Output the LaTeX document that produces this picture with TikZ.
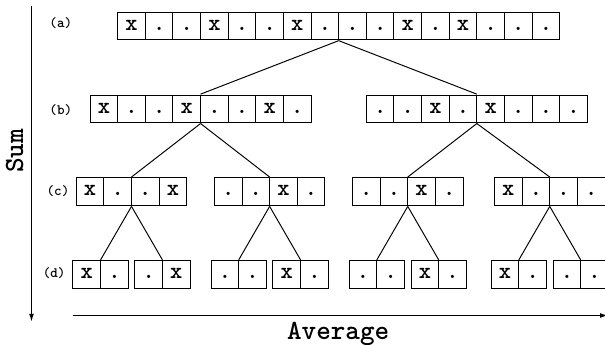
\documentclass[tikz,border=0pt]{standalone}
\usepackage{fontspec}
\setmonofont{lmmonolt10-bold.otf}
\usetikzlibrary{matrix,arrows.meta}

\begin{document}
\begin{tikzpicture}[
    cell/.style={
        rectangle,
        draw=black,
        line width=0.5pt,
        minimum size=0.5cm,
        inner sep=0pt,
        text height=1ex,
        text depth=0pt,
        font=\ttfamily\fontsize{12}{12}\selectfont
    },
    row/.style={
        matrix of nodes,
        nodes={cell},
        column sep=-0.5pt,
        inner sep=0pt
    },
    level/.style={
        font=\ttfamily\fontsize{7.4}{8}\selectfont
    },
    axis/.style={
        line width=0.5pt,
        -{Latex[length=4pt,width=2.5pt]}
    },
    axislabel/.style={
        font=\ttfamily\fontsize{14.3}{15}\selectfont
    },
    link/.style={line width=0.5pt}
]

\useasboundingbox (0,0) rectangle (10.95,6.24);

% Axes
\coordinate (top) at (0.57,6.14);
\coordinate (bottom) at (0.57,0.42);
\coordinate (left) at (1.32,0.53);
\coordinate (right) at (11.0,0.53);
\draw[axis] (top) -- (bottom);
\draw[axis] (left) -- (right);
\node[axislabel, rotate=90, anchor=base] (sum) at (0.42,3.51) {Sum};
\node[axislabel, anchor=base] (average) at (6.12,0.10) {Average};

% Level labels
\node[level] (la) at (1.10,5.83) {(a)};
\node[level] (lb) at (1.10,4.25) {(b)};
\node[level] (lc) at (1.05,2.78) {(c)};
\node[level] (ld) at (0.98,1.30) {(d)};

% (a)
\matrix (a) [row] at (6.13,5.77) {x & . & . & x & . & . & x & . & . & . & x & . & x & . & . & .\\};

% (b)
\matrix (b1) [row] at (3.63,4.27) {x & . & . & x & . & . & x & .\\};
\matrix (b2) [row] at (8.63,4.27) {. & . & x & . & x & . & . & .\\};

% (c)
\matrix (c1) [row] at (2.38,2.77) {x & . & . & x\\};
\matrix (c2) [row] at (4.88,2.77) {. & . & x & .\\};
\matrix (c3) [row] at (7.38,2.77) {. & . & x & .\\};
\matrix (c4) [row] at (9.95,2.77) {x & . & . & .\\};

% (d)
\matrix (d1) [row] at (1.82,1.27) {x & .\\};
\matrix (d2) [row] at (2.94,1.27) {. & x\\};
\matrix (d3) [row] at (4.32,1.27) {. & .\\};
\matrix (d4) [row] at (5.44,1.27) {x & .\\};
\matrix (d5) [row] at (6.82,1.27) {. & .\\};
\matrix (d6) [row] at (7.94,1.27) {x & .\\};
\matrix (d7) [row] at (9.39,1.27) {x & .\\};
\matrix (d8) [row] at (10.51,1.27) {. & .\\};

% Splits
\draw[link] (a.south) -- (b1.north);
\draw[link] (a.south) -- (b2.north);
\draw[link] (b1.south) -- (c1.north);
\draw[link] (b1.south) -- (c2.north);
\draw[link] (b2.south) -- (c3.north);
\draw[link] (b2.south) -- (c4.north);
\draw[link] (c1.south) -- (d1.north);
\draw[link] (c1.south) -- (d2.north);
\draw[link] (c2.south) -- (d3.north);
\draw[link] (c2.south) -- (d4.north);
\draw[link] (c3.south) -- (d5.north);
\draw[link] (c3.south) -- (d6.north);
\draw[link] (c4.south) -- (d7.north);
\draw[link] (c4.south) -- (d8.north);

\end{tikzpicture}
\end{document}
